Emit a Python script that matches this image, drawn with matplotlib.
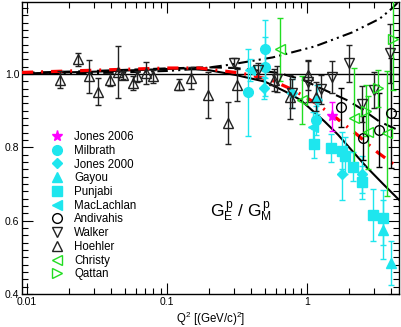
import matplotlib
matplotlib.use("Agg")
import matplotlib.pyplot as plt
from matplotlib.ticker import FixedLocator, MultipleLocator, NullFormatter
import numpy as np

plt.rcParams['font.family'] = ['Liberation Sans', 'DejaVu Sans']
plt.rcParams['mathtext.fontset'] = 'custom'
plt.rcParams['mathtext.rm'] = 'Liberation Sans'
plt.rcParams['mathtext.it'] = 'Liberation Sans'

CYAN = '#1ee6ee'
GREEN = '#22dd22'

# data points: Q2, ratio, error
jones06_q = [1.5]
jones06_r = [0.884]
jones06_e = [0.04]

milbrath_q = [0.38, 0.50, 0.50, 1.17]
milbrath_r = [0.950, 1.068, 1.020, 0.873]
milbrath_e = [0.118, 0.08, 0.08, 0.04]

jones00_q = [0.49, 0.78, 1.18, 1.77, 2.47]
jones00_r = [0.961, 0.947, 0.930, 0.726, 0.726]
jones00_e = [0.03, 0.04, 0.04, 0.07, 0.05]

gayou_q = [3.47, 3.97]
gayou_r = [0.575, 0.485]
gayou_e = [0.08, 0.06]

punjabi_q = [1.13, 1.48, 1.77, 1.88, 2.13, 2.47, 2.97, 3.47]
punjabi_r = [0.810, 0.797, 0.791, 0.777, 0.747, 0.704, 0.615, 0.608]
punjabi_e = [0.04, 0.038, 0.05, 0.05, 0.04, 0.045, 0.07, 0.075]

maclachlan_q = [0.39, 1.1]
maclachlan_r = [1.01, 0.856]
maclachlan_e = [0.03, 0.04]

andivahis_q = [1.75, 2.5, 3.25, 4.0]
andivahis_r = [0.909, 0.826, 0.847, 0.893]
andivahis_e = [0.053, 0.06, 0.10, 0.15]

walker_q = [0.30, 0.45, 0.61, 0.78, 1.02, 1.27, 1.5, 2.0, 2.46, 3.0, 3.9]
walker_r = [1.030, 1.010, 0.986, 0.947, 0.979, 0.958, 0.991, 1.029, 0.918, 0.956, 1.056]
walker_e = [0.012, 0.02, 0.035, 0.04, 0.055, 0.04, 0.043, 0.05, 0.05, 0.05, 0.08]

hoehler_q = [0.0172, 0.0232, 0.0278, 0.0323, 0.0391, 0.0444, 0.0483, 0.057, 0.0606,
             0.0707, 0.079, 0.122, 0.148, 0.197, 0.274, 0.315, 0.58, 0.76, 1.02, 1.17]
hoehler_r = [0.984, 1.040, 0.993, 0.952, 0.984, 1.005, 0.997, 0.975, 0.993,
             1.002, 0.993, 0.970, 0.990, 0.943, 0.866, 0.970, 0.984, 0.938, 0.997, 0.938]
hoehler_e = [0.023, 0.018, 0.044, 0.037, 0.018, 0.072, 0.01, 0.018, 0.015,
             0.03, 0.018, 0.015, 0.03, 0.063, 0.058, 0.043, 0.03, 0.06, 0.04, 0.04]

christy_q = [0.64, 0.92, 2.17, 2.75, 3.75]
christy_r = [1.067, 0.929, 0.880, 0.841, 0.838]
christy_e = [0.085, 0.065, 0.135, 0.10, 0.17]

qattan_q = [2.64, 3.2, 4.1]
qattan_r = [0.900, 0.961, 1.095]
qattan_e = [0.07, 0.05, 0.14]

# curves
solid_q = [0.0092, 0.03, 0.08, 0.13, 0.2, 0.31, 0.5, 0.7, 0.9, 1.34, 1.67, 2.0, 2.67, 3.5, 4.6]
solid_r = [1.001, 1.006, 1.012, 1.015, 1.010, 0.997, 0.979, 0.952, 0.929, 0.870, 0.834, 0.800, 0.746, 0.700, 0.655]

red_q = [0.0092, 0.03, 0.1, 0.17, 0.34, 0.55, 0.8, 1.17, 1.63, 2.29, 3.2, 4.6]
red_r = [1.004, 1.010, 1.016, 1.016, 1.002, 0.984, 0.956, 0.919, 0.879, 0.834, 0.786, 0.742]

dash_q = [0.0092, 0.03, 0.1, 0.2, 0.31, 0.62, 0.92, 1.27, 1.92, 2.45, 3.3, 4.6]
dash_r = [1.003, 1.008, 1.015, 1.018, 1.016, 1.003, 0.985, 0.960, 0.929, 0.905, 0.870, 0.845]

ddot_q = [0.0092, 0.03, 0.1, 0.17, 0.28, 0.57, 1.14, 2.1, 3.3, 4.1, 4.6]
ddot_r = [1.000, 1.002, 1.008, 1.014, 1.025, 1.045, 1.075, 1.113, 1.150, 1.180, 1.200]

fig = plt.figure(figsize=(4.01, 3.27), dpi=100)
ax = fig.add_axes([22/401, 1-294/327, 377/401, 292/327])
ax.set_xscale('log')
ax.set_xlim(0.0092, 4.55)
ax.set_ylim(0.4, 1.196)

ax.axhline(1.0, color='black', lw=1.0, zorder=2)
ax.plot(solid_q, solid_r, color='black', lw=1.5, zorder=2)
ax.plot(dash_q, dash_r, color='black', lw=1.5, ls=(0, (6, 3)), zorder=2)
ax.plot(ddot_q, ddot_r, color='black', lw=1.5, ls=(0, (5, 2, 1, 2, 1, 2)), zorder=2)
ax.plot(red_q, red_r, color='red', lw=2.3, ls=(0, (3.5, 2.5, 0.6, 2.5)), zorder=3)

def pts(q, r, e, col, mk, ms, filled, label):
    ax.errorbar(q, r, yerr=e, fmt=mk, color=col, ecolor=col, elinewidth=1.0,
                capsize=2.5, capthick=1.0, ms=ms,
                mfc=col if filled else 'none', mec=col, mew=1.0, label=label, zorder=4)

pts(jones06_q, jones06_r, jones06_e, 'magenta', '*', 8, True, 'Jones 2006')
pts(milbrath_q, milbrath_r, milbrath_e, CYAN, 'o', 7, True, 'Milbrath')
pts(jones00_q, jones00_r, jones00_e, CYAN, 'D', 5.5, True, 'Jones 2000')
pts(gayou_q, gayou_r, gayou_e, CYAN, '^', 7, True, 'Gayou')
pts(punjabi_q, punjabi_r, punjabi_e, CYAN, 's', 6.5, True, 'Punjabi')
pts(maclachlan_q, maclachlan_r, maclachlan_e, CYAN, '<', 7, True, 'MacLachlan')
pts(andivahis_q, andivahis_r, andivahis_e, 'black', 'o', 7, False, 'Andivahis')
pts(walker_q, walker_r, walker_e, '#222222', 'v', 7, False, 'Walker')
pts(hoehler_q, hoehler_r, hoehler_e, '#222222', '^', 7, False, 'Hoehler')
pts(christy_q, christy_r, christy_e, GREEN, '<', 7, False, 'Christy')
pts(qattan_q, qattan_r, qattan_e, GREEN, '>', 7, False, 'Qattan')

handles, labels = ax.get_legend_handles_labels()
handles = [h[0] for h in handles]
ax.legend(handles, labels, loc='upper left', bbox_to_anchor=(0.077, 0.558),
          frameon=False, fontsize=8.3, handlelength=1.0, handletextpad=1.0,
          labelspacing=0.15, borderpad=0, borderaxespad=0)

ax.text(0.5, 0.28, r'$\mathrm{G_E^{\,p}\ /\ G_M^{\,p}}$', transform=ax.transAxes,
        fontsize=12.5, ha='left', va='center')

ax.set_xlabel(r'Q$^2$ [(GeV/c)$^2$]', fontsize=8.3, labelpad=2)

ax.xaxis.set_major_locator(FixedLocator([0.01, 0.1, 1]))
ax.set_xticklabels(['0.01', '0.1', '1'])
ax.yaxis.set_major_locator(MultipleLocator(0.2))
ax.yaxis.set_minor_locator(MultipleLocator(0.02))
ax.yaxis.set_major_formatter(matplotlib.ticker.FormatStrFormatter('%.1f'))
ax.tick_params(which='both', direction='in', top=True, right=True, labelsize=7.5, pad=2)
ax.tick_params(which='major', length=8, width=0.8)
ax.tick_params(which='minor', length=4, width=0.8)
ax.xaxis.set_minor_formatter(NullFormatter())
for s in ax.spines.values():
    s.set_linewidth(1.0)

fig.savefig('out.png', dpi=100)
